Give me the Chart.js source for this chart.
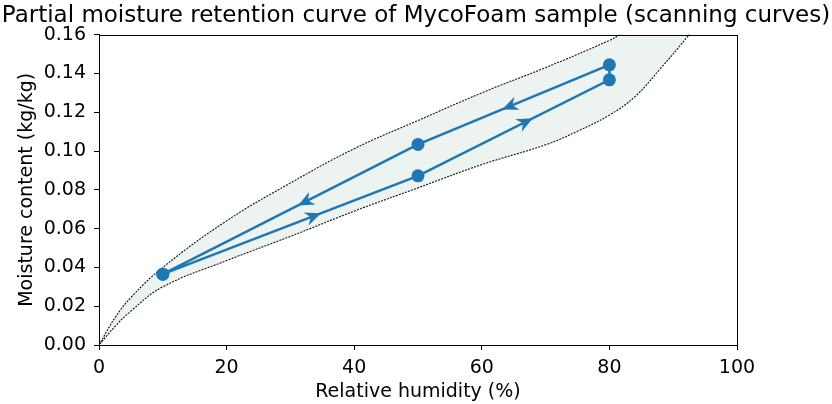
<!DOCTYPE html>
<html>
<head>
<meta charset="utf-8">
<script src="https://cdn.jsdelivr.net/npm/chart.js@4/dist/chart.umd.min.js"></script>
<style>
  html, body { margin: 0; padding: 0; background: #fff; }
  #wrap { width: 832px; height: 404px; }
</style>
</head>
<body>
<div id="wrap"><canvas id="retention"></canvas></div>
<script>
// envelope (main desorption / adsorption curves);
// the last point of each runs just past the top of the axes and gets clipped
const rhUpper = [0, 2.5, 5, 10, 20, 30, 40, 50, 60, 70, 80, 81.7, 84];
const mcUpper = [0, 0.014, 0.0245, 0.040, 0.064, 0.0835, 0.1012, 0.1157, 0.130, 0.143, 0.157, 0.16, 0.1635];
const rhLower = [0, 2.5, 5, 10, 20, 30, 40, 50, 60, 70, 75, 80, 84, 88, 92.5, 94];
const mcLower = [0, 0.0095, 0.0175, 0.030, 0.0435, 0.056, 0.069, 0.081, 0.093, 0.1032, 0.1102, 0.1185, 0.128, 0.1425, 0.16, 0.167];

// scanning curve, in the order it was measured
const rhScan = [10, 50, 80, 80, 50, 10];
const mcScan = [0.0365, 0.0872, 0.1367, 0.1444, 0.1034, 0.0365];

// where along each scanning segment the arrow tip sits (0..1)
const arrowAt = [0.62, 0.6, null, 0.56, 0.47];

const xTicks = [0, 20, 40, 60, 80, 100];
const blue = '#1f77b4';

Chart.defaults.font.family = "'DejaVu Sans', sans-serif";
Chart.defaults.color = '#000';

function toXY(xs, ys) {
    let out = [];
    for (let i = 0; i < xs.length; i++) {
        out.push({x: xs[i], y: ys[i]});
    }
    return out;
}

// closed band: up the upper curve, back down the lower one
let band = toXY(rhUpper, mcUpper);
let lowerRev = toXY(rhLower, mcLower).reverse();
band = band.concat(lowerRev);

const arrowPlugin = {
    id: 'arrows',
    afterDatasetsDraw(chart) {
        let ctx = chart.ctx;
        let xs = chart.scales.x, ys = chart.scales.y;
        ctx.save();
        ctx.fillStyle = blue;
        for (let i = 0; i < arrowAt.length; i++) {
            if (arrowAt[i] == null) continue;
            let x0 = xs.getPixelForValue(rhScan[i]), y0 = ys.getPixelForValue(mcScan[i]);
            let x1 = xs.getPixelForValue(rhScan[i + 1]), y1 = ys.getPixelForValue(mcScan[i + 1]);
            let tx = x0 + (x1 - x0) * arrowAt[i];
            let ty = y0 + (y1 - y0) * arrowAt[i];
            let a = Math.atan2(y1 - y0, x1 - x0);
            ctx.save();
            ctx.translate(tx, ty);
            ctx.rotate(a);
            ctx.beginPath();
            ctx.moveTo(0, 0);
            ctx.lineTo(-16, -7);
            ctx.lineTo(-11, 0);
            ctx.lineTo(-16, 7);
            ctx.closePath();
            ctx.fill();
            ctx.restore();
        }
        ctx.restore();
    }
};

const framePlugin = {
    id: 'frame',
    afterDraw(chart) {
        let a = chart.chartArea;
        let ctx = chart.ctx;
        ctx.save();
        ctx.strokeStyle = '#000';
        ctx.lineWidth = 1;
        ctx.strokeRect(Math.round(a.left) + 0.5, Math.round(a.top) + 0.5,
                       Math.round(a.right - a.left), Math.round(a.bottom - a.top));
        ctx.restore();
    }
};

new Chart(document.getElementById('retention').getContext('2d'), {
    type: 'scatter',
    data: {
        datasets: [{
            label: 'Scanning curve',
            data: toXY(rhScan, mcScan),
            showLine: true,
            borderColor: blue,
            borderWidth: 2.5,
            pointRadius: 6.5,
            pointBackgroundColor: blue,
            pointBorderWidth: 0,
            order: 0
        }, {
            label: 'Envelope',
            data: band,
            showLine: true,
            fill: 'shape',
            tension: 0.4,
            backgroundColor: '#edf3f1',
            borderColor: '#111',
            borderWidth: 1.1,
            borderDash: [2, 1.2],
            pointRadius: 0,
            order: 1
        }]
    },
    options: {
        responsive: true,
        maintainAspectRatio: false,
        animation: false,
        layout: { padding: { left: 0, right: 0, top: 0, bottom: 1 } },
        plugins: {
            legend: { display: false },
            tooltip: { enabled: false },
            title: {
                display: true,
                text: 'Partial moisture retention curve of MycoFoam sample (scanning curves)',
                font: { size: 23, weight: 'normal' },
                color: '#000',
                padding: { top: 2, bottom: 5 }
            }
        },
        scales: {
            x: {
                type: 'linear',
                min: 0,
                max: 100,
                afterBuildTicks(axis) {
                    axis.ticks = xTicks.map(v => ({value: v}));
                },
                afterFit(axis) { axis.height = 58; },
                ticks: { font: { size: 19 }, padding: 7, color: '#000' },
                grid: { drawOnChartArea: false, drawTicks: true, tickLength: 5, color: '#000' },
                border: { display: true, color: '#000', width: 1 },
                title: {
                    display: true,
                    text: 'Relative humidity (%)',
                    font: { size: 19 },
                    color: '#000',
                    padding: { top: 2, bottom: 0 }
                }
            },
            y: {
                type: 'linear',
                min: 0,
                max: 0.16,
                afterFit(axis) { axis.width = 99; },
                ticks: {
                    stepSize: 0.02,
                    font: { size: 19 },
                    padding: 8,
                    color: '#000',
                    callback: v => v.toFixed(2)
                },
                grid: { drawOnChartArea: false, drawTicks: true, tickLength: 5, color: '#000' },
                border: { display: true, color: '#000', width: 1 },
                title: {
                    display: true,
                    text: 'Moisture content (kg/kg)',
                    font: { size: 19 },
                    color: '#000',
                    padding: { top: 16, bottom: 0 }
                }
            },
            // empty axis that only reserves the white margin on the right
            spacer: {
                type: 'linear',
                position: 'right',
                min: 0,
                max: 1,
                afterFit(axis) { axis.width = 95; },
                ticks: { display: false },
                grid: { display: false },
                border: { display: false }
            }
        }
    },
    plugins: [arrowPlugin, framePlugin]
});
</script>
</body>
</html>
